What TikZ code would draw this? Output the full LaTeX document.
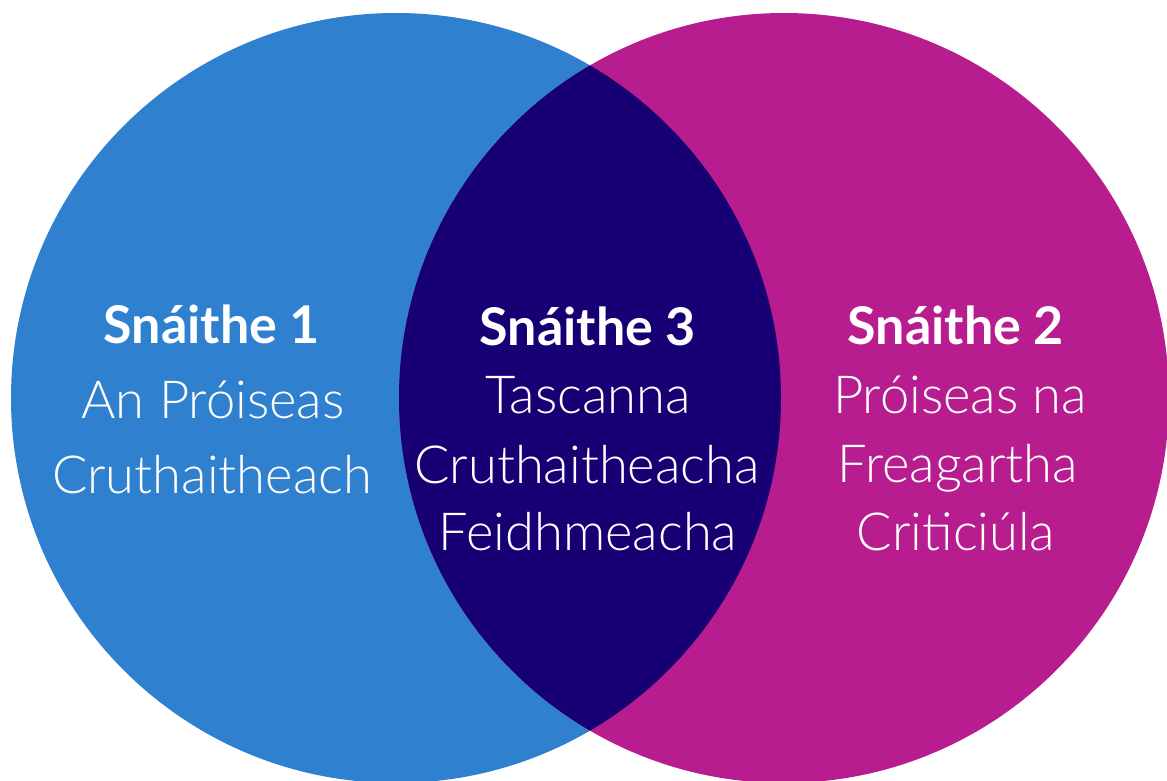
\documentclass[tikz,border=0pt]{standalone}
\usepackage{fontspec}
\setmainfont{Lato}
\newfontfamily\lightfont{Lato Light}
\definecolor{vblue}{RGB}{47,128,206}
\definecolor{vmag}{RGB}{184,29,144}
\definecolor{vdark}{RGB}{22,0,116}
\begin{document}
\begin{tikzpicture}[x=1pt,y=-1pt,
  head/.style={anchor=base,inner sep=0pt,text=white,font=\fontsize{52}{52}\selectfont\bfseries},
  body/.style={anchor=base,inner sep=0pt,text=white,font=\fontsize{52.5}{52.5}\selectfont\lightfont}]
\useasboundingbox (0,0) rectangle (1167,780);
\fill[vblue] (396,398) circle (385pt);
\fill[vmag] (784,398) circle (385pt);
\begin{scope}
\clip (396,398) circle (385pt);
\fill[vdark] (784,398) circle (385pt);
\end{scope}
\node[head] (h1) at (212,343) {Snáithe 1};
\node[body] (a1) at (213,418) {An Próiseas};
\node[body] (a2) at (212,493) {Cruthaitheach};
\node[head] (h3) at (588,345) {Snáithe 3};
\node[body] (c1) at (588,413) {Tascanna};
\node[body] (c2) at (587,483) {Cruthaitheacha};
\node[body] (c3) at (588,550) {Feidhmeacha};
\node[head] (h2) at (956,344) {Snáithe 2};
\node[body] (b1) at (960,413) {Próiseas na};
\node[body] (b2) at (958,482) {Freagartha};
\node[body] (b3) at (956,550) {Criticiúla};
\end{tikzpicture}
\end{document}
